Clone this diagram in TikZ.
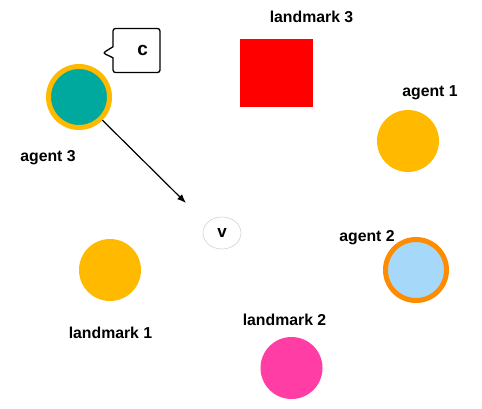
\documentclass[tikz,border=0pt]{standalone}
\usepackage{fontspec}
\newfontfamily\lblfont{Liberation Sans}
\usetikzlibrary{shapes.geometric,shapes.callouts,arrows.meta}
\definecolor{gold}{HTML}{FFBA00}
\definecolor{teal}{HTML}{00A99D}
\definecolor{skyblue}{HTML}{A6D9F9}
\definecolor{darkorange}{HTML}{FF8C00}
\definecolor{hotpink}{HTML}{FF3DA4}
\tikzset{ball/.style={circle,inner sep=0pt,minimum size=62},
  ringball/.style={ball,minimum size=61,line width=5pt}}

\begin{document}
\begin{tikzpicture}[x=1pt,y=-1pt,line width=.35pt,font=\lblfont\bfseries\fontsize{15.8}{18}\selectfont]
\useasboundingbox (0,0) rectangle (482,408);
\node[fill=red,inner sep=0pt,minimum width=73,minimum height=68] (lm3) at (276.5,73) {};
\node[ringball,fill=teal,draw=gold] (ag3) at (79,97) {};
\node[ball,fill=gold] (ag1) at (408,141) {};
\node[ringball,fill=skyblue,draw=darkorange] (ag2) at (416,270) {};
\node[ball,fill=gold] (lm1) at (110,270) {};
\node[ball,fill=hotpink] (lm2) at (291.5,368) {};
\node (lm3lbl) at (311.5,17) {landmark 3};\node (ag1lbl) at (430,93) {agent 1};
\node (ag3lbl) at (48,158) {agent 3};\node (ag2lbl) at (367,238) {agent 2};
\node (lm1lbl) at (110.5,333) {landmark 1};\node (lm2lbl) at (284.5,320) {landmark 2};
\node[ellipse,draw=black!18,line width=.6pt,inner sep=0pt,minimum width=38,minimum height=32,
  font=\lblfont\bfseries\fontsize{17}{18}\selectfont] (v) at (222,233) {v};
\node[rectangle callout,draw,line width=1.3pt,rounded corners=2.5pt,minimum width=47,minimum height=44,
  text width=23,inner xsep=11,align=right,callout absolute pointer={(103,53)},callout pointer width=11pt,
  font=\lblfont\bfseries\fontsize{19}{20}\selectfont] (c) at (136.5,50.5) {c};
\coordinate (tip) at (186,203);
\draw[line width=1.2pt,-{Latex[length=9pt,width=7pt]}] (ag3) -- (tip);
\end{tikzpicture}
\end{document}
